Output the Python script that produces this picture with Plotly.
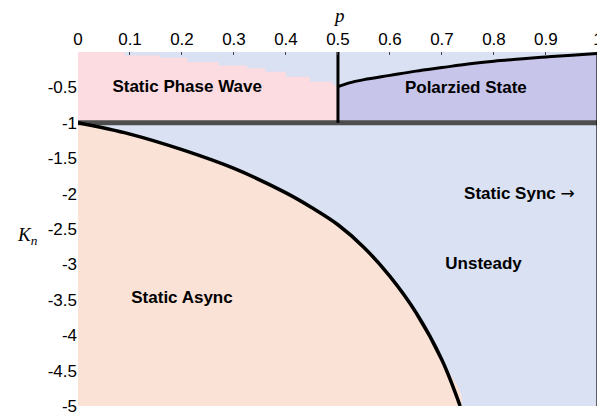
import plotly.graph_objects as go

# boundary curves (p, K_n)
wave_p = [0, 0.09, 0.09, 0.158, 0.21, 0.27, 0.325, 0.36, 0.40, 0.446, 0.49, 0.5]
wave_k = [0, 0, -0.05, -0.08, -0.14, -0.19, -0.23, -0.28, -0.35, -0.42, -0.47, -0.47]

polar_p = [0.5, 0.52, 0.55, 0.6, 0.65, 0.7, 0.75, 0.8, 0.85, 0.9, 0.95, 1.0]
polar_k = [-0.49, -0.44, -0.39, -0.33, -0.27, -0.22, -0.17, -0.13, -0.10, -0.07, -0.045, -0.02]

async_p = [0, 0.1, 0.2, 0.3, 0.4, 0.45, 0.5, 0.55, 0.6, 0.65, 0.7, 0.735]
async_k = [-1, -1.16, -1.38, -1.645, -1.99, -2.20, -2.44, -2.76, -3.17, -3.68, -4.35, -5.0]

xticks = [0, 0.1, 0.2, 0.3, 0.4, 0.5, 0.6, 0.7, 0.8, 0.9, 1]
xtick_text = ['0', '0.1', '0.2', '0.3', '0.4', '0.5', '0.6', '0.7', '0.8', '0.9', '1']
yticks = [-0.5, -1, -1.5, -2, -2.5, -3, -3.5, -4, -4.5, -5]
ytick_text = ['-0.5', '-1', '-1.5', '-2', '-2.5', '-3', '-3.5', '-4', '-4.5', '-5']

labels = ['Static Phase Wave', 'Polarzied State',
          'Static Sync <span style="font-family:DejaVu Sans;font-weight:normal">→</span>',
          'Unsteady', 'Static Async']
label_p = [0.21, 0.746, 0.849, 0.78, 0.20]
label_k = [-0.51, -0.52, -2.01, -3.0, -3.49]

blue = '#d9e1f2'
pink = '#fcdce0'
purple = '#c7c5ea'
peach = '#fae3d6'

fig = go.Figure()

# filled regions
fig.add_trace(go.Scatter(x=wave_p + [0.5, 0], y=wave_k + [-1, -1], fill='toself',
                         fillcolor=pink, line=dict(width=0, shape='hv'), mode='lines'))
fig.add_trace(go.Scatter(x=polar_p + [1, 0.5], y=polar_k + [-1, -1], fill='toself',
                         fillcolor=purple, line=dict(width=0), mode='lines'))
fig.add_trace(go.Scatter(x=async_p + [0], y=async_k + [-5], fill='toself',
                         fillcolor=peach, line=dict(width=0, shape='spline'), mode='lines'))

# boundaries
fig.add_trace(go.Scatter(x=[0, 1], y=[-1, -1], mode='lines',
                         line=dict(color='#4d4d4d', width=5)))
fig.add_trace(go.Scatter(x=[0.5, 0.5], y=[0, -1], mode='lines',
                         line=dict(color='black', width=3)))
fig.add_trace(go.Scatter(x=[1, 1], y=[0, -5], mode='lines',
                         line=dict(color='black', width=3)))
fig.add_trace(go.Scatter(x=polar_p, y=polar_k, mode='lines',
                         line=dict(color='black', width=3, shape='spline')))
fig.add_trace(go.Scatter(x=async_p, y=async_k, mode='lines',
                         line=dict(color='black', width=3.5, shape='spline')))

fig.add_trace(go.Scatter(x=label_p, y=label_k, mode='text', text=['<b>%s</b>' % t for t in labels],
                         textfont=dict(family='Liberation Sans, Arial', size=17, color='black')))

# page body has an 8px margin, so the figure is drawn 8px smaller
fig.update_layout(
    width=597, height=405,
    margin=dict(l=70, r=5, t=44, b=7),
    showlegend=False,
    plot_bgcolor=blue,
    paper_bgcolor='white',
    font=dict(family='Liberation Sans, Arial', size=17, color='black'),
    xaxis=dict(range=[0, 1.004], side='top', tickvals=xticks, ticktext=xtick_text,
               showgrid=False, zeroline=False, ticks='inside', ticklen=3,
               tickcolor='#444', showline=False, automargin=False,
               ticklabelstandoff=3, ticklabeloverflow='allow'),
    yaxis=dict(range=[-5, 0], tickvals=yticks, ticktext=ytick_text,
               showgrid=False, zeroline=False, ticks='', showline=False, automargin=False,
               ticklabeloverflow='allow'),
    annotations=[
        dict(text='<i>p</i>', x=0.5, y=1, xref='paper', yref='paper', yshift=37,
             yanchor='middle', showarrow=False, font=dict(family='Liberation Serif', size=19)),
        dict(text='<i>K</i><sub><i>n</i></sub>', x=0, y=-2.6, xref='paper', yref='y',
             xshift=-63, showarrow=False, font=dict(family='Liberation Serif', size=19)),
    ],
)

fig.write_html("out.html")
